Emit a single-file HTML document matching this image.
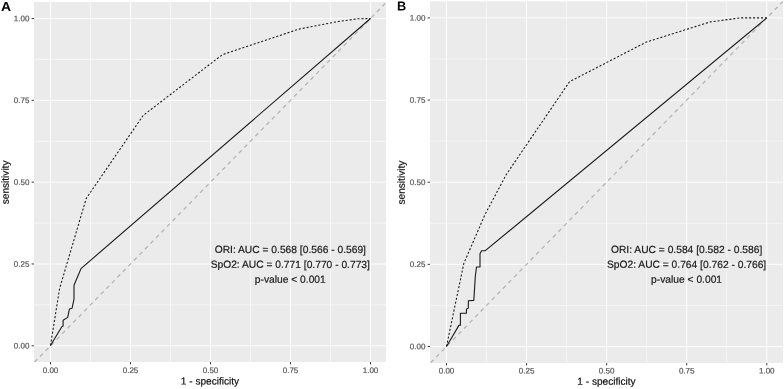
<!DOCTYPE html>
<html><head><meta charset="utf-8"><title>ROC</title>
<style>
html,body{margin:0;padding:0;background:#fff;}
body{width:784px;height:389px;overflow:hidden;}
svg{display:block;will-change:transform;}
text{text-rendering:geometricPrecision;font-family:"Liberation Sans",sans-serif;}
.tk{font-size:8.0px;fill:#555;stroke:#555;stroke-width:0.2px;}
.ti{font-size:10.1px;fill:#111;stroke:#111;stroke-width:0.2px;}
.tag{font-size:13px;font-weight:bold;fill:#000;}
.an{font-size:10.25px;fill:#1a1a1a;stroke:#1a1a1a;stroke-width:0.2px;}
</style></head><body>
<svg width="784" height="389" viewBox="0 0 784 389">
<rect width="784" height="389" fill="#fff"/>
<rect x="34" y="2" width="352" height="360" fill="#ebebeb"/>
<line x1="90.50" x2="90.50" y1="2" y2="362" stroke="#fff" stroke-width="0.55" stroke-opacity="1"/>
<line x1="34" x2="386" y1="304.89" y2="304.89" stroke="#fff" stroke-width="0.55" stroke-opacity="1"/>
<line x1="170.50" x2="170.50" y1="2" y2="362" stroke="#fff" stroke-width="0.55" stroke-opacity="1"/>
<line x1="34" x2="386" y1="223.06" y2="223.06" stroke="#fff" stroke-width="0.55" stroke-opacity="1"/>
<line x1="250.50" x2="250.50" y1="2" y2="362" stroke="#fff" stroke-width="0.55" stroke-opacity="1"/>
<line x1="34" x2="386" y1="141.24" y2="141.24" stroke="#fff" stroke-width="0.55" stroke-opacity="1"/>
<line x1="330.50" x2="330.50" y1="2" y2="362" stroke="#fff" stroke-width="0.55" stroke-opacity="1"/>
<line x1="34" x2="386" y1="59.41" y2="59.41" stroke="#fff" stroke-width="0.55" stroke-opacity="1"/>
<line x1="50.50" x2="50.50" y1="2" y2="362" stroke="#fff" stroke-width="0.95"/>
<line x1="34" x2="386" y1="345.80" y2="345.80" stroke="#fff" stroke-width="0.95"/>
<line x1="130.50" x2="130.50" y1="2" y2="362" stroke="#fff" stroke-width="0.95"/>
<line x1="34" x2="386" y1="263.98" y2="263.98" stroke="#fff" stroke-width="0.95"/>
<line x1="210.50" x2="210.50" y1="2" y2="362" stroke="#fff" stroke-width="0.95"/>
<line x1="34" x2="386" y1="182.15" y2="182.15" stroke="#fff" stroke-width="0.95"/>
<line x1="290.50" x2="290.50" y1="2" y2="362" stroke="#fff" stroke-width="0.95"/>
<line x1="34" x2="386" y1="100.32" y2="100.32" stroke="#fff" stroke-width="0.95"/>
<line x1="370.50" x2="370.50" y1="2" y2="362" stroke="#fff" stroke-width="0.95"/>
<line x1="34" x2="386" y1="18.50" y2="18.50" stroke="#fff" stroke-width="0.95"/>
<clipPath id="cA"><rect x="34" y="2" width="352" height="360"/></clipPath>
<g clip-path="url(#cA)">
<line x1="34.50" y1="362.17" x2="389.70" y2="-1.14" stroke="#b3b3b3" stroke-width="1.25" stroke-dasharray="4.08 3.82" stroke-dashoffset="0"/>
<polyline fill="none" stroke="#1a1a1a" stroke-width="1.1" stroke-linejoin="round" points="50.5,345.5 61.8,326.8 63.1,326.0 63.1,320.2 67.7,317.4 69.4,309.1 72.1,308.2 74.0,299.2 74.0,285.2 77.8,276.2 81.0,268.6 370.5,18.5"/>
<polyline fill="none" stroke="#1a1a1a" stroke-width="1.08" stroke-dasharray="2.1 1.87" stroke-linejoin="round" points="50.5,345.5 59.6,288.5 86.2,198.5 143.2,115.4 222.3,54.7 298.8,29.1 337.2,21.7 357.3,18.8 370.5,18.5"/>
</g>
<line x1="50.50" x2="50.50" y1="362" y2="364.4" stroke="#333" stroke-width="0.95"/>
<line x1="31.6" x2="34" y1="345.80" y2="345.80" stroke="#333" stroke-width="0.95"/>
<text x="50.50" y="372.9" transform="rotate(0.1 50.50 372.9)" text-anchor="middle" class="tk">0.00</text>
<text x="29.4" y="348.55" transform="rotate(0.1 29.4 348.55)" text-anchor="end" class="tk">0.00</text>
<line x1="130.50" x2="130.50" y1="362" y2="364.4" stroke="#333" stroke-width="0.95"/>
<line x1="31.6" x2="34" y1="263.98" y2="263.98" stroke="#333" stroke-width="0.95"/>
<text x="130.50" y="372.9" transform="rotate(0.1 130.50 372.9)" text-anchor="middle" class="tk">0.25</text>
<text x="29.4" y="266.73" transform="rotate(0.1 29.4 266.73)" text-anchor="end" class="tk">0.25</text>
<line x1="210.50" x2="210.50" y1="362" y2="364.4" stroke="#333" stroke-width="0.95"/>
<line x1="31.6" x2="34" y1="182.15" y2="182.15" stroke="#333" stroke-width="0.95"/>
<text x="210.50" y="372.9" transform="rotate(0.1 210.50 372.9)" text-anchor="middle" class="tk">0.50</text>
<text x="29.4" y="184.90" transform="rotate(0.1 29.4 184.90)" text-anchor="end" class="tk">0.50</text>
<line x1="290.50" x2="290.50" y1="362" y2="364.4" stroke="#333" stroke-width="0.95"/>
<line x1="31.6" x2="34" y1="100.32" y2="100.32" stroke="#333" stroke-width="0.95"/>
<text x="290.50" y="372.9" transform="rotate(0.1 290.50 372.9)" text-anchor="middle" class="tk">0.75</text>
<text x="29.4" y="103.07" transform="rotate(0.1 29.4 103.07)" text-anchor="end" class="tk">0.75</text>
<line x1="370.50" x2="370.50" y1="362" y2="364.4" stroke="#333" stroke-width="0.95"/>
<line x1="31.6" x2="34" y1="18.50" y2="18.50" stroke="#333" stroke-width="0.95"/>
<text x="370.50" y="372.9" transform="rotate(0.1 370.50 372.9)" text-anchor="middle" class="tk">1.00</text>
<text x="29.4" y="21.25" transform="rotate(0.1 29.4 21.25)" text-anchor="end" class="tk">1.00</text>
<text x="210.00" y="384.5" transform="rotate(0.1 210.00 384.5)" text-anchor="middle" class="ti">1 - specificity</text>
<text transform="translate(8.80,182.40) rotate(-90.1)" text-anchor="middle" class="ti">sensitivity</text>
<text x="1.1" y="11.0" transform="rotate(0.1 1.1 11.0)" class="tag" textLength="10.1" lengthAdjust="spacingAndGlyphs">A</text>
<text x="290.3" y="253.00" transform="rotate(0.1 290.3 253.00)" text-anchor="middle" class="an">ORI: AUC = 0.568 [0.566 - 0.569]</text>
<text x="290.3" y="267.90" transform="rotate(0.1 290.3 267.90)" text-anchor="middle" class="an">SpO2: AUC = 0.771 [0.770 - 0.773]</text>
<text x="290.3" y="282.80" transform="rotate(0.1 290.3 282.80)" text-anchor="middle" class="an">p-value &lt; 0.001</text>
<rect x="430" y="1.4" width="353" height="361.6" fill="#ebebeb"/>
<line x1="486.54" x2="486.54" y1="1.4" y2="363" stroke="#fff" stroke-width="0.55" stroke-opacity="1"/>
<line x1="430" x2="783" y1="305.43" y2="305.43" stroke="#fff" stroke-width="0.55" stroke-opacity="1"/>
<line x1="566.61" x2="566.61" y1="1.4" y2="363" stroke="#fff" stroke-width="0.55" stroke-opacity="1"/>
<line x1="430" x2="783" y1="223.27" y2="223.27" stroke="#fff" stroke-width="0.55" stroke-opacity="1"/>
<line x1="646.69" x2="646.69" y1="1.4" y2="363" stroke="#fff" stroke-width="0.55" stroke-opacity="1"/>
<line x1="430" x2="783" y1="141.12" y2="141.12" stroke="#fff" stroke-width="0.55" stroke-opacity="1"/>
<line x1="726.76" x2="726.76" y1="1.4" y2="363" stroke="#fff" stroke-width="0.55" stroke-opacity="1"/>
<line x1="430" x2="783" y1="58.97" y2="58.97" stroke="#fff" stroke-width="0.55" stroke-opacity="1"/>
<line x1="446.50" x2="446.50" y1="1.4" y2="363" stroke="#fff" stroke-width="0.95"/>
<line x1="430" x2="783" y1="346.50" y2="346.50" stroke="#fff" stroke-width="0.95"/>
<line x1="526.58" x2="526.58" y1="1.4" y2="363" stroke="#fff" stroke-width="0.95"/>
<line x1="430" x2="783" y1="264.35" y2="264.35" stroke="#fff" stroke-width="0.95"/>
<line x1="606.65" x2="606.65" y1="1.4" y2="363" stroke="#fff" stroke-width="0.95"/>
<line x1="430" x2="783" y1="182.20" y2="182.20" stroke="#fff" stroke-width="0.95"/>
<line x1="686.72" x2="686.72" y1="1.4" y2="363" stroke="#fff" stroke-width="0.95"/>
<line x1="430" x2="783" y1="100.05" y2="100.05" stroke="#fff" stroke-width="0.95"/>
<line x1="766.80" x2="766.80" y1="1.4" y2="363" stroke="#fff" stroke-width="0.95"/>
<line x1="430" x2="783" y1="17.90" y2="17.90" stroke="#fff" stroke-width="0.95"/>
<clipPath id="cB"><rect x="430" y="1.4" width="353" height="361.6"/></clipPath>
<g clip-path="url(#cB)">
<line x1="430.49" y1="362.93" x2="786.02" y2="-1.82" stroke="#b3b3b3" stroke-width="1.25" stroke-dasharray="4.1 3.85" stroke-dashoffset="-0.3"/>
<polyline fill="none" stroke="#1a1a1a" stroke-width="1.1" stroke-linejoin="round" points="446.5,346.5 458.9,325.4 460.4,325.2 460.4,313.3 466.4,313.3 466.5,308.9 468.3,308.3 468.4,300.7 473.8,300.4 475.3,276.5 476.5,267.0 480.0,267.0 480.0,253.8 481.6,250.7 485.3,250.7 766.8,17.9"/>
<polyline fill="none" stroke="#1a1a1a" stroke-width="1.08" stroke-dasharray="2.1 1.87" stroke-linejoin="round" points="446.5,346.5 463.8,263.5 485.0,214.5 506.3,174.5 569.5,81.7 646.3,42.1 710.2,21.9 740.5,17.9 766.8,17.9"/>
</g>
<line x1="446.50" x2="446.50" y1="363" y2="365.4" stroke="#333" stroke-width="0.95"/>
<line x1="427.6" x2="430" y1="346.50" y2="346.50" stroke="#333" stroke-width="0.95"/>
<text x="446.50" y="373.4" transform="rotate(0.1 446.50 373.4)" text-anchor="middle" class="tk">0.00</text>
<text x="425.4" y="349.25" transform="rotate(0.1 425.4 349.25)" text-anchor="end" class="tk">0.00</text>
<line x1="526.58" x2="526.58" y1="363" y2="365.4" stroke="#333" stroke-width="0.95"/>
<line x1="427.6" x2="430" y1="264.35" y2="264.35" stroke="#333" stroke-width="0.95"/>
<text x="526.58" y="373.4" transform="rotate(0.1 526.58 373.4)" text-anchor="middle" class="tk">0.25</text>
<text x="425.4" y="267.10" transform="rotate(0.1 425.4 267.10)" text-anchor="end" class="tk">0.25</text>
<line x1="606.65" x2="606.65" y1="363" y2="365.4" stroke="#333" stroke-width="0.95"/>
<line x1="427.6" x2="430" y1="182.20" y2="182.20" stroke="#333" stroke-width="0.95"/>
<text x="606.65" y="373.4" transform="rotate(0.1 606.65 373.4)" text-anchor="middle" class="tk">0.50</text>
<text x="425.4" y="184.95" transform="rotate(0.1 425.4 184.95)" text-anchor="end" class="tk">0.50</text>
<line x1="686.72" x2="686.72" y1="363" y2="365.4" stroke="#333" stroke-width="0.95"/>
<line x1="427.6" x2="430" y1="100.05" y2="100.05" stroke="#333" stroke-width="0.95"/>
<text x="686.72" y="373.4" transform="rotate(0.1 686.72 373.4)" text-anchor="middle" class="tk">0.75</text>
<text x="425.4" y="102.80" transform="rotate(0.1 425.4 102.80)" text-anchor="end" class="tk">0.75</text>
<line x1="766.80" x2="766.80" y1="363" y2="365.4" stroke="#333" stroke-width="0.95"/>
<line x1="427.6" x2="430" y1="17.90" y2="17.90" stroke="#333" stroke-width="0.95"/>
<text x="766.80" y="373.4" transform="rotate(0.1 766.80 373.4)" text-anchor="middle" class="tk">1.00</text>
<text x="425.4" y="20.65" transform="rotate(0.1 425.4 20.65)" text-anchor="end" class="tk">1.00</text>
<text x="606.50" y="384.8" transform="rotate(0.1 606.50 384.8)" text-anchor="middle" class="ti">1 - specificity</text>
<text transform="translate(404.80,182.60) rotate(-90.1)" text-anchor="middle" class="ti">sensitivity</text>
<text x="396.9" y="10.4" transform="rotate(0.1 396.9 11.0)" class="tag" textLength="9.2" lengthAdjust="spacingAndGlyphs">B</text>
<text x="686.6" y="253.00" transform="rotate(0.1 686.6 253.00)" text-anchor="middle" class="an">ORI: AUC = 0.584 [0.582 - 0.586]</text>
<text x="686.6" y="267.90" transform="rotate(0.1 686.6 267.90)" text-anchor="middle" class="an">SpO2: AUC = 0.764 [0.762 - 0.766]</text>
<text x="686.6" y="282.80" transform="rotate(0.1 686.6 282.80)" text-anchor="middle" class="an">p-value &lt; 0.001</text>
</svg>
</body></html>
